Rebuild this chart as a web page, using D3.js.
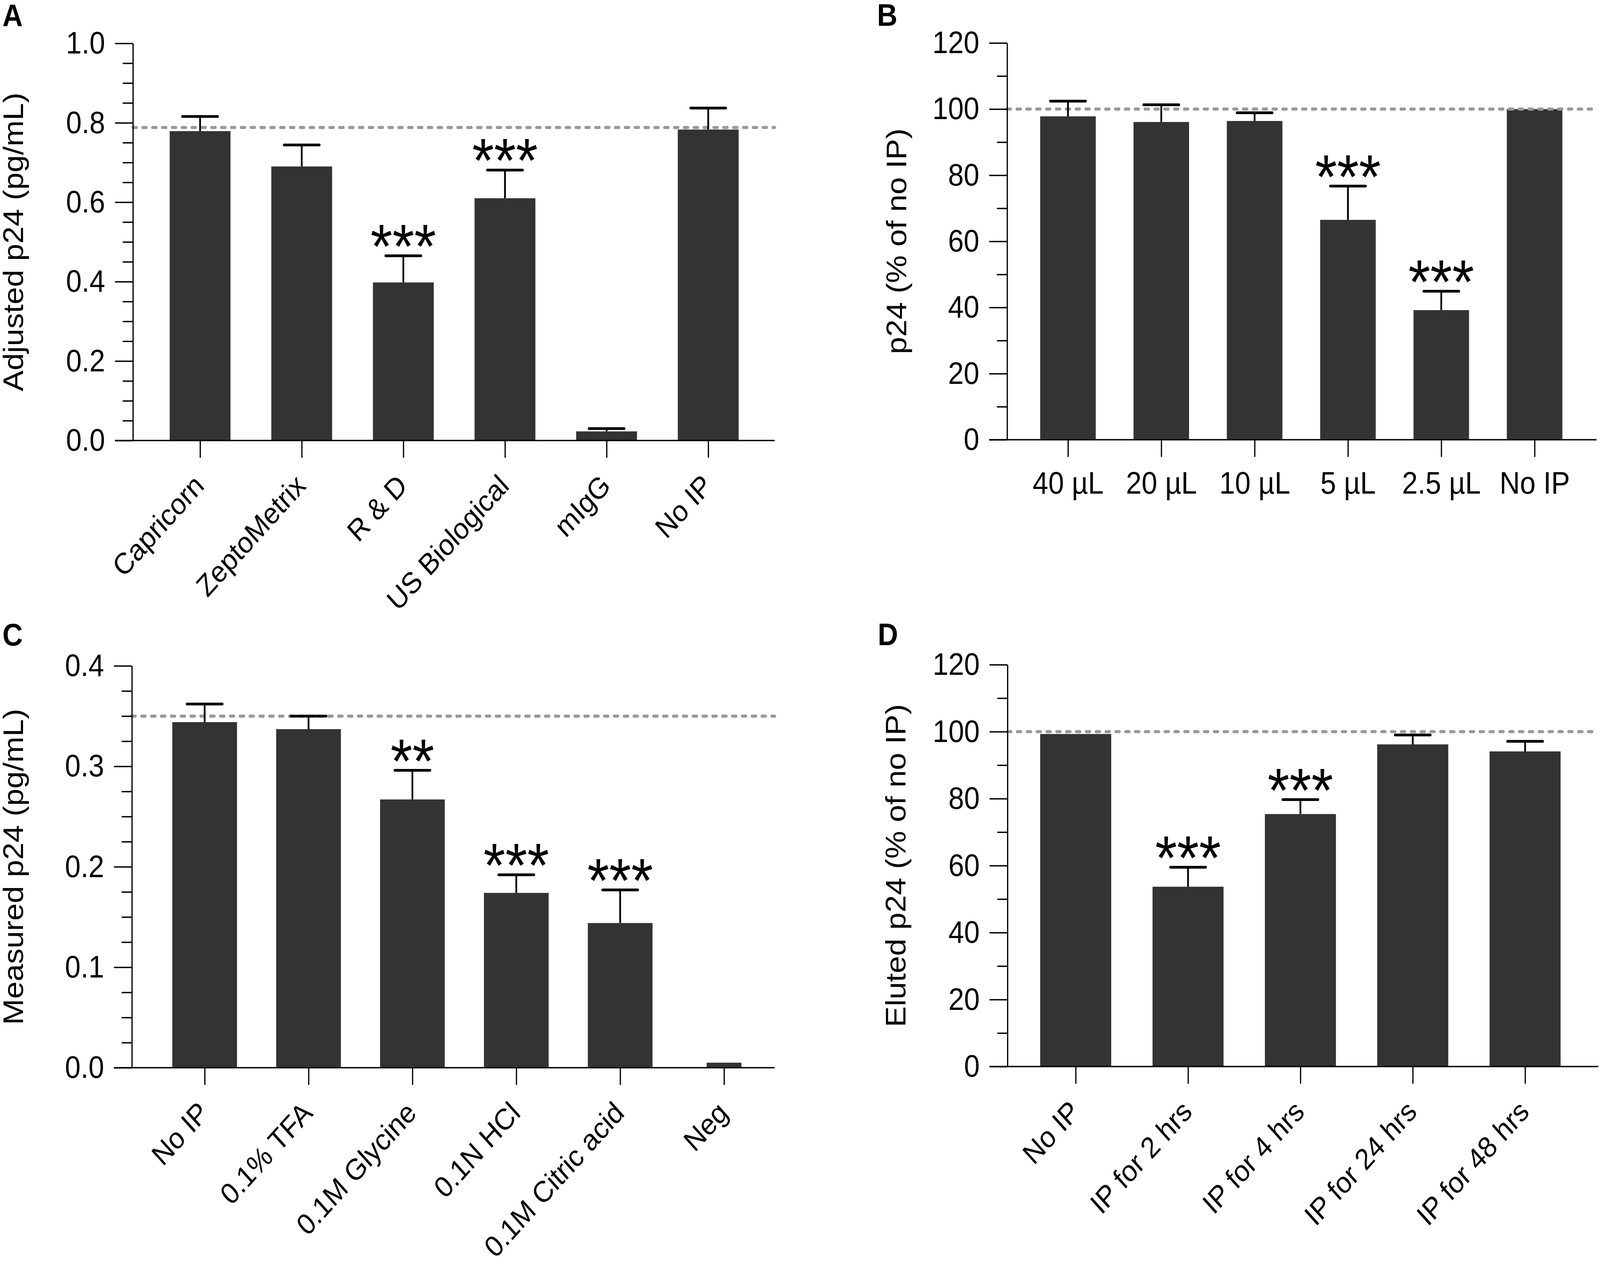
<!DOCTYPE html>
<html>
<head>
<meta charset="utf-8">
<script src="https://cdn.jsdelivr.net/npm/d3@7"></script>
<style>
  html, body { margin: 0; padding: 0; background: #fff; width: 100%; height: 100%; overflow: hidden; }
  #chart { width: 100vw; height: 100vh; }
  svg { display: block; width: 100%; height: 100%; }
</style>
</head>
<body>
<div id="chart"></div>
<script>
// Four-panel p24 bar chart (A–D), mean + upper SEM bars, dashed reference line

// ---- data ----
const A_CATS  = ['Capricorn', 'ZeptoMetrix', 'R & D', 'US Biological', 'mIgG', 'No IP'];
const A_MEAN  = [0.779, 0.690, 0.398, 0.610, 0.023, 0.783];
const A_ERR   = [0.037, 0.054, 0.067, 0.071, 0.007, 0.054];
const A_STARS = ['', '', '***', '***', '', ''];
const A_REF   = 0.788;
const A_TICKS = [0, 0.2, 0.4, 0.6, 0.8, 1.0];

const B_CATS  = ['40 µL', '20 µL', '10 µL', '5 µL', '2.5 µL', 'No IP'];
const B_MEAN  = [97.8, 96.1, 96.4, 66.5, 39.2, 100];
const B_ERR   = [4.6, 5.2, 2.5, 10.2, 5.7, 0];
const B_STARS = ['', '', '', '***', '***', ''];
const B_REF   = 100;
const B_TICKS = [0, 20, 40, 60, 80, 100, 120];

const C_CATS  = ['No IP', '0.1% TFA', '0.1M Glycine', '0.1N HCl', '0.1M Citric acid', 'Neg'];
const C_MEAN  = [0.344, 0.337, 0.267, 0.174, 0.144, 0.005];
const C_ERR   = [0.018, 0.013, 0.029, 0.018, 0.033, 0];
const C_STARS = ['', '', '**', '***', '***', ''];
const C_REF   = 0.35;
const C_TICKS = [0, 0.1, 0.2, 0.3, 0.4];

const D_CATS  = ['No IP', 'IP for 2 hrs', 'IP for 4 hrs', 'IP for 24 hrs', 'IP for 48 hrs'];
const D_MEAN  = [99.3, 53.7, 75.4, 96.2, 94.1];
const D_ERR   = [0, 5.8, 4.3, 2.8, 3.0];
const D_STARS = ['', '***', '***', '', ''];
const D_REF   = 100;
const D_TICKS = [0, 20, 40, 60, 80, 100, 120];

const W = 4550, H = 3252;
const FONT = '"Liberation Sans", Arial, Helvetica, sans-serif';
const BAR_COLOR = '#333333';
const AXIS_W = 3.5;

const panels = [
  { letter: 'A', lx: 7, ly: 67, cats: A_CATS, mean: A_MEAN, err: A_ERR, stars: A_STARS, ref: A_REF,
    ticks: A_TICKS, minorStep: 0.05, fmt: d3.format('.1f'), title: 'Adjusted p24 (pg/mL)', titleX: 65,
    x0: 378, xEnd: 2203, yTop: 111, yBot: 1128, first: 569, last: 2014, barW: 173, rotate: true },
  { letter: 'B', lx: 2494, ly: 66, cats: B_CATS, mean: B_MEAN, err: B_ERR, stars: B_STARS, ref: B_REF,
    ticks: B_TICKS, minorStep: 10, fmt: d3.format('d'), title: 'p24 (% of no IP)', titleX: 2577,
    x0: 2864, xEnd: 4540, yTop: 110, yBot: 1126, first: 3037, last: 4364, barW: 158, rotate: false },
  { letter: 'C', lx: 7, ly: 1653, cats: C_CATS, mean: C_MEAN, err: C_ERR, stars: C_STARS, ref: C_REF,
    ticks: C_TICKS, minorStep: 0.025, fmt: d3.format('.1f'), title: 'Measured p24 (pg/mL)', titleX: 65,
    x0: 375, xEnd: 2203, yTop: 1705, yBot: 2734, first: 582, last: 2059, barW: 184, rotate: true,
    narrow: { 'Neg': 99 } },
  { letter: 'D', lx: 2496, ly: 1652, cats: D_CATS, mean: D_MEAN, err: D_ERR, stars: D_STARS, ref: D_REF,
    ticks: D_TICKS, minorStep: 10, fmt: d3.format('d'), title: 'Eluted p24 (% of no IP)', titleX: 2575,
    x0: 2865, xEnd: 4545, yTop: 1702, yBot: 2731, first: 3059, last: 4337, barW: 202, rotate: true },
];

// fill the whole window with the figure
const svg = d3.select('#chart').append('svg')
  .attr('viewBox', `0 0 ${W} ${H}`)
  .attr('preserveAspectRatio', 'none')
  .style('font-family', FONT);

svg.append('rect').attr('width', W).attr('height', H).attr('fill', '#fff');

panels.forEach(p => {
  const g = svg.append('g');
  const yMax = p.ticks[p.ticks.length - 1];
  const y = d3.scaleLinear().domain([0, yMax]).range([p.yBot, p.yTop]);
  const x = d3.scalePoint().domain(p.cats).range([p.first, p.last]);

  const rows = p.cats.map((c, i) => ({ cat: c, mean: p.mean[i], err: p.err[i], star: p.stars[i] }));
  const bw = d => (p.narrow && p.narrow[d.cat]) || p.barW;

  // bars
  g.selectAll('rect.bar').data(rows).join('rect')
    .attr('class', 'bar')
    .attr('x', d => x(d.cat) - bw(d) / 2)
    .attr('width', bw)
    .attr('y', d => y(d.mean))
    .attr('height', d => y(0) - y(d.mean))
    .attr('fill', BAR_COLOR);

  // reference dashed line
  g.append('line')
    .attr('x1', p.x0).attr('x2', p.xEnd)
    .attr('y1', y(p.ref)).attr('y2', y(p.ref))
    .attr('stroke', '#999999')
    .attr('stroke-width', 8)
    .attr('stroke-linecap', 'round')
    .attr('stroke-dasharray', '10 18');

  // error bars (upper only)
  const eb = g.selectAll('g.err').data(rows.filter(d => d.err > 0)).join('g').attr('class', 'err');
  eb.append('line')
    .attr('x1', d => x(d.cat)).attr('x2', d => x(d.cat))
    .attr('y1', d => y(d.mean)).attr('y2', d => y(d.mean + d.err))
    .attr('stroke', '#000').attr('stroke-width', 5);
  eb.append('line')
    .attr('x1', d => x(d.cat) - 50).attr('x2', d => x(d.cat) + 50)
    .attr('y1', d => y(d.mean + d.err)).attr('y2', d => y(d.mean + d.err))
    .attr('stroke', '#000').attr('stroke-width', 7).attr('stroke-linecap', 'round');

  // significance stars
  g.selectAll('text.star').data(rows.filter(d => d.star)).join('text')
    .attr('class', 'star')
    .attr('x', d => x(d.cat))
    .attr('y', d => y(d.mean + d.err) + 31)
    .attr('text-anchor', 'middle')
    .attr('font-size', 160)
    .attr('fill', '#000')
    .text(d => d.star);

  // y axis: minor ticks
  const minorVals = d3.range(0, yMax + p.minorStep / 2, p.minorStep)
    .filter(v => !p.ticks.some(t => Math.abs(t - v) < 1e-9));
  const yMinor = g.append('g')
    .attr('transform', `translate(${p.x0},0)`)
    .call(d3.axisLeft(y).tickValues(minorVals).tickSize(29).tickSizeOuter(0).tickFormat(''));
  yMinor.select('.domain').remove();

  // y axis: major ticks + labels
  const yAxis = g.append('g')
    .attr('transform', `translate(${p.x0},0)`)
    .call(d3.axisLeft(y).tickValues(p.ticks).tickSize(51).tickSizeOuter(0).tickPadding(28).tickFormat(p.fmt));
  yAxis.selectAll('text').attr('font-size', 80).attr('font-family', FONT).attr('fill', '#000');

  [yMinor, yAxis].forEach(a => {
    a.selectAll('line').attr('stroke', '#000').attr('stroke-width', AXIS_W);
    a.select('.domain').attr('stroke', '#000').attr('stroke-width', AXIS_W);
  });

  // x axis baseline (extends left to major-tick length)
  g.append('line')
    .attr('x1', p.x0 - 51).attr('x2', p.xEnd)
    .attr('y1', y(0)).attr('y2', y(0))
    .attr('stroke', '#000').attr('stroke-width', AXIS_W);

  // x axis category ticks + labels
  const xAxis = g.append('g')
    .attr('transform', `translate(0,${y(0)})`)
    .call(d3.axisBottom(x).tickSize(44).tickSizeOuter(0));
  xAxis.select('.domain').remove();
  xAxis.selectAll('line').attr('stroke', '#000').attr('stroke-width', AXIS_W);
  const labels = xAxis.selectAll('text')
    .attr('font-size', p.rotate ? 76 : 80)
    .attr('font-family', FONT)
    .attr('fill', '#000')
    .attr('dy', null);
  if (p.rotate) {
    labels.attr('text-anchor', 'end')
      .attr('x', 15).attr('y', 120)
      .attr('transform', 'rotate(-45, 15, 120)');
  } else {
    labels.attr('text-anchor', 'middle').attr('x', 0).attr('y', 138);
  }

  // y title
  const cy = (p.yTop + p.yBot) / 2;
  g.append('text')
    .attr('transform', `translate(${p.titleX},${cy}) rotate(-90)`)
    .attr('text-anchor', 'middle')
    .attr('font-size', 80)
    .attr('fill', '#000')
    .text(p.title);

  // panel letter
  g.append('text')
    .attr('x', p.lx).attr('y', p.ly)
    .attr('font-size', 80)
    .attr('font-weight', 700)
    .attr('fill', '#000')
    .text(p.letter);
});
</script>
</body>
</html>
